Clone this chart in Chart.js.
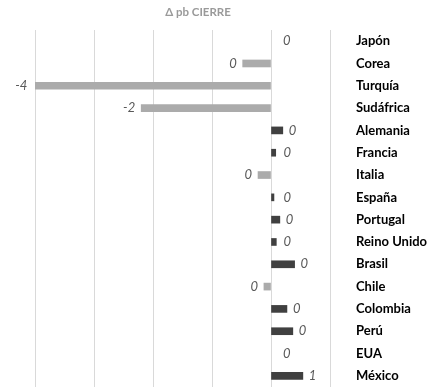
<!DOCTYPE html>
<html>
<head>
<meta charset="utf-8">
<script src="https://cdn.jsdelivr.net/npm/chart.js@4"></script>
<style>
  body { margin: 0; background: #fff; }
  canvas { display: block; }
</style>
</head>
<body>
<canvas id="chart" width="432" height="387"></canvas>
<script>
// Categories and values (Δ pb at close)
const countries = ["Japón", "Corea", "Turquía", "Sudáfrica", "Alemania", "Francia", "Italia", "España",
    "Portugal", "Reino Unido", "Brasil", "Chile", "Colombia", "Perú", "EUA", "México"];
const changes = [0, -0.48, -4.03, -2.2, 0.2, 0.08, -0.22, 0.05, 0.15, 0.09, 0.4, -0.12, 0.27, 0.37, 0, 0.54];
const chartTitle = "Δ pb CIERRE";

// Bar colour depends on sign (zero bars stay invisible)
const barColors = changes.map(v => v === 0 ? "rgba(0,0,0,0)" : (v < 0 ? "#ababab" : "#404040"));

// Draws the title and the value labels next to each bar
const labelPlugin = {
    id: "valueLabels",
    afterDatasetsDraw(chart) {
        const ctx = chart.ctx;
        ctx.save();
        ctx.font = "bold 11.5px Lato";
        ctx.fillStyle = "#9a9a9a";
        ctx.textAlign = "center";
        ctx.textBaseline = "middle";
        ctx.fillText(chartTitle, 198, 12);

        ctx.font = "italic 13px Lato";
        ctx.fillStyle = "#595959";
        const meta = chart.getDatasetMeta(0);
        meta.data.forEach((bar, i) => {
            const v = changes[i];
            let txt = String(Math.round(v));
            if (txt === "-0") txt = "0";
            if (v < 0) {
                ctx.textAlign = "right";
                ctx.fillText(txt, bar.x - 6, bar.y);
            } else {
                ctx.textAlign = "left";
                ctx.fillText(txt, Math.max(bar.x, bar.base + 6) + 6, bar.y);
            }
        });
        ctx.restore();
    }
};

const ctx = document.getElementById("chart").getContext("2d");
new Chart(ctx, {
    type: "bar",
    data: {
        labels: countries,
        datasets: [{
            data: changes,
            backgroundColor: barColors,
            barThickness: 7
        }]
    },
    options: {
        indexAxis: "y",
        responsive: false,
        animation: false,
        layout: { padding: { top: 30, left: 35, right: 0, bottom: -1 } },
        plugins: {
            legend: { display: false },
            tooltip: { enabled: false }
        },
        scales: {
            x: {
                min: -4,
                max: 1,
                ticks: { display: false, stepSize: 1 },
                grid: { color: "#d9d9d9", drawTicks: false },
                border: { display: false },
                afterFit(scale) { scale.height = 0; }
            },
            y: {
                position: "right",
                grid: { display: false },
                border: { display: false },
                ticks: {
                    crossAlign: "near",
                    padding: 18,
                    color: "#000",
                    font: { family: "Lato", weight: "bold", size: 13 }
                },
                afterFit(scale) {
                    scale.width = 102;
                    // tick padding would otherwise shrink the plot area
                    scale.paddingTop = 0;
                    scale.paddingBottom = 0;
                }
            }
        }
    },
    plugins: [labelPlugin]
});
</script>
</body>
</html>
